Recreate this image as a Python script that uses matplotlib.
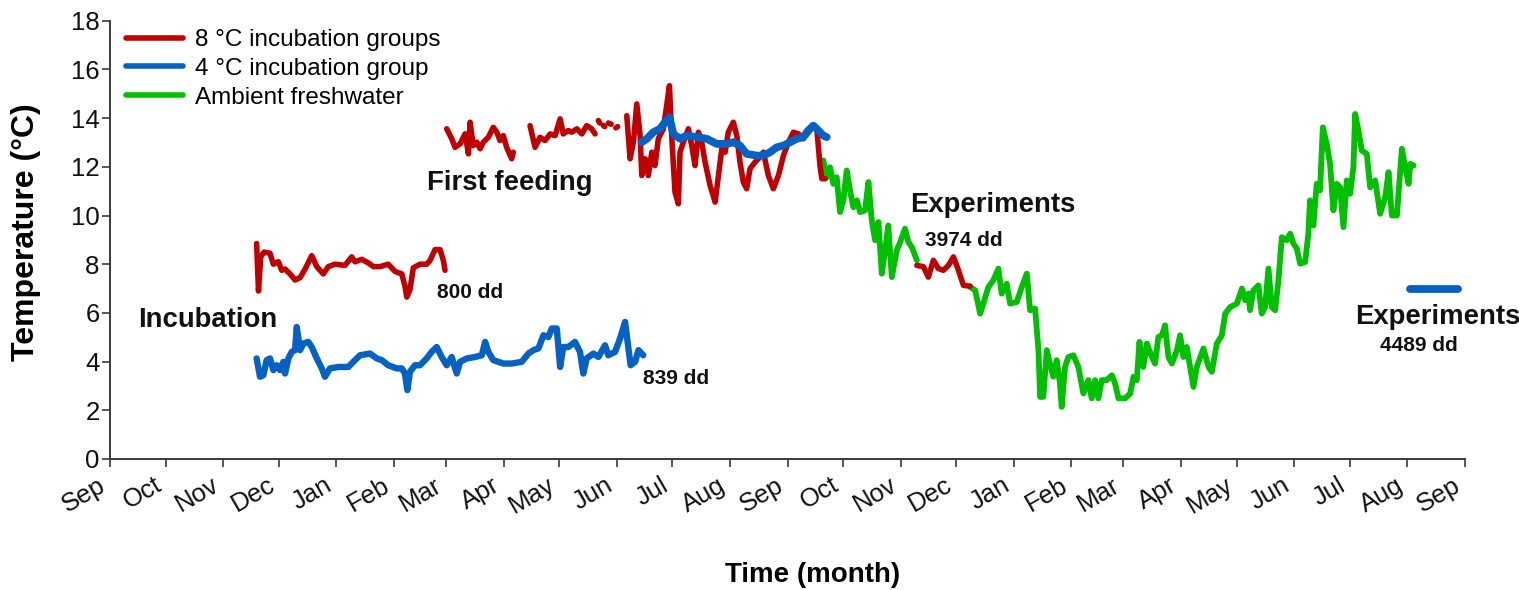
import numpy as np
import matplotlib
matplotlib.use("Agg")
import matplotlib.pyplot as plt
import matplotlib.dates as mdates

plt.rcParams['font.family'] = ['Liberation Sans', 'DejaVu Sans']

# Time axis: days since 1 September 2012
START = np.datetime64('2012-09-01')
END = np.datetime64('2014-09-01')
nan = np.nan

# 8 °C incubation groups: incubation period
red_incub_day = [79.0, 80.0, 81.2, 83.0, 86.2, 88.0, 90.7, 92.5, 94.3, 97.0,
                 99.7, 102.4, 105.1, 108.7, 111.4, 114.9, 117.6, 121.2, 126.6, 130.2,
                 132.0, 135.6, 139.2, 141.9, 145.5, 149.9, 153.6, 157.2, 158.9, 159.9,
                 161.6, 163.4, 167.0, 170.6, 172.4, 175.1, 177.8, 179.6, 180.5]
red_incub_temp = [8.85, 6.9, 8.3, 8.5, 8.45, 8.0, 8.1, 7.75, 7.8, 7.6,
                  7.35, 7.45, 7.8, 8.35, 7.9, 7.6, 7.9, 8.0, 7.95, 8.3,
                  8.1, 8.2, 8.05, 7.9, 7.9, 8.0, 7.7, 7.6, 7.1, 6.65,
                  6.95, 7.85, 8.0, 8.0, 8.15, 8.6, 8.6, 8.15, 7.75]

# 8 °C incubation groups: first feeding and summer rearing
red_rear_day = [181.4, 184.1, 185.9, 188.6, 191.3, 193.1, 194.0, 195.7, 197.6, 199.4,
                201.1, 203.8, 206.5, 208.4, 210.1, 211.9, 213.7, 216.4, 217.3, nan,
                226.3, 229.0, 231.7, 234.4, 237.1, 239.8, 242.5, 244.2, 246.9, 248.8,
                251.5, 254.2, 256.8, 259.5, 261.3, nan,
                263.1, 263.8, nan, 265.8, 266.5, nan, 268.5, 270.0, nan, 272.5, 273.5, nan,
                278.4, 280.2, 282.0, 283.8, 285.6, 286.5, 288.3, 290.0, 291.9, 293.6,
                295.4, 298.1, 299.9, 301.4, 302.6, 304.4, 306.2, 307.1, 308.9, 311.6,
                313.4, 315.2, 317.0, 318.8, 320.6, 323.3, 326.0, 327.8, 329.6, 331.4,
                333.1, 335.8, 337.7, 339.4, 341.2, 343.0, 344.8, 347.5, 349.3, 352.0,
                354.7, 357.4, 360.1, 362.8, 365.5, 368.2, 370.9, 373.5, 376.2, 378.9,
                380.8, 382.5, 383.5, 385.3]
red_rear_temp = [13.56, 13.15, 12.80, 12.94, 13.35, 12.53, 13.83, 12.87, 13.01, 12.74,
                 13.01, 13.21, 13.62, 13.42, 13.08, 13.28, 12.80, 12.33, 12.6, nan,
                 13.69, 12.80, 13.21, 13.08, 13.35, 13.28, 13.97, 13.35, 13.49, 13.42,
                 13.56, 13.35, 13.69, 13.56, 13.35, nan,
                 13.9, 13.8, nan, 13.7, 13.65, nan, 13.8, 13.75, nan, 13.6, 13.65, nan,
                 14.10, 12.33, 13.01, 14.58, 13.28, 11.64, 12.33, 11.64, 12.60, 12.05,
                 13.15, 13.56, 14.51, 15.33, 13.28, 10.96, 10.48, 12.60, 13.01, 13.56,
                 12.87, 12.05, 13.42, 13.01, 12.19, 11.23, 10.55, 11.64, 12.74, 12.60,
                 13.42, 13.83, 13.28, 12.19, 11.37, 11.10, 11.92, 12.19, 12.33, 12.60,
                 11.64, 11.10, 11.64, 12.46, 13.01, 13.42, 13.35, 13.15, 13.42, 13.69,
                 13.56, 12.05, 11.51, 11.51]

# 8 °C incubation groups: experimental period
red_exp_day = [434.7, 438.2, 440.9, 443.6, 446.3, 449.0, 451.7, 454.4, 457.1, 459.8, 463.4]
red_exp_temp = [7.95, 7.9, 7.47, 8.16, 7.82, 7.75, 7.95, 8.30, 7.75, 7.13, 7.10]

# 4 °C incubation group: incubation period
blue_incub_day = [79.0, 80.8, 82.6, 84.4, 86.2, 88.0, 89.8, 91.6, 93.4, 94.3,
                  96.1, 97.9, 99.7, 100.6, 102.4, 104.1, 106.8, 108.7, 111.4, 114.1,
                  115.8, 118.5, 123.0, 128.4, 131.1, 134.7, 140.1, 143.7, 146.4, 149.9,
                  154.5, 157.2, 158.9, 160.2, 161.6, 164.3, 167.0, 170.6, 173.3, 176.0,
                  178.7, 181.4, 184.1, 186.8, 188.6, 192.2, 196.7, 200.3, 202.1, 203.8,
                  206.5, 211.9, 216.4, 221.8, 225.4, 228.1, 230.8, 233.5, 236.2, 238.0,
                  240.7, 242.5, 244.2, 246.9, 250.5, 253.2, 255.0, 256.8, 260.4, 263.1,
                  266.7, 268.5, 272.1, 274.8, 277.5, 279.3, 280.5, 282.9, 284.7, 287.3]
blue_incub_temp = [4.13, 3.38, 3.44, 4.06, 4.13, 3.65, 3.85, 3.65, 3.99, 3.51,
                   4.13, 4.40, 4.47, 5.42, 4.47, 4.74, 4.81, 4.60, 4.13, 3.72,
                   3.38, 3.72, 3.78, 3.78, 3.99, 4.26, 4.33, 4.13, 4.06, 3.85,
                   3.72, 3.72, 3.51, 2.83, 3.58, 3.85, 3.85, 4.13, 4.40, 4.60,
                   4.19, 3.85, 4.19, 3.51, 3.99, 4.13, 4.19, 4.26, 4.81, 4.40,
                   4.06, 3.92, 3.92, 3.99, 4.33, 4.47, 4.54, 5.08, 5.01, 5.36,
                   5.36, 3.78, 4.60, 4.60, 4.81, 4.40, 3.51, 4.13, 4.33, 4.19,
                   4.67, 4.26, 4.40, 4.95, 5.63, 4.54, 3.85, 3.99, 4.47, 4.26]

# 4 °C incubation group: summer rearing
blue_rear_day = [286.5, 289.2, 292.7, 296.3, 299.0, 301.4, 303.5, 307.1, 310.7, 316.1,
                 321.5, 326.9, 332.3, 335.8, 339.4, 343.0, 348.4, 352.0, 355.6, 359.2,
                 362.8, 366.4, 370.0, 373.5, 376.2, 378.9, 381.6, 384.3, 386.1]
blue_rear_temp = [13.01, 13.15, 13.42, 13.56, 13.83, 14.03, 13.35, 13.15, 13.28, 13.22,
                  13.15, 12.94, 12.94, 13.01, 12.87, 12.53, 12.46, 12.46, 12.60, 12.80,
                  12.87, 13.01, 13.15, 13.22, 13.49, 13.69, 13.49, 13.28, 13.22]

# 4 °C incubation group: experimental period
blue_exp_day = [700.4, 726.3]
blue_exp_temp = [7.0, 7.0]

# Ambient freshwater
green_day = [384.3, 386.1, 387.9, 389.7, 391.5, 393.3, 395.1, 396.9, 398.7, 400.5,
             402.4, 404.1, 406.8, 408.6, 410.4, 412.2, 414.0, 415.8, 417.6, 419.3,
             421.2, 423.9, 425.7, 428.3, 430.1, 432.0, 434.7, nan,
             463.4, 466.1, 468.8, 470.5, 473.2, 475.9, 478.6, 480.4, 483.1, 484.9,
             488.5, 491.2, 493.9, 495.7, 498.4, 500.2, 501.1, 502.8, 504.7, 506.4,
             508.2, 510.0, 511.8, 512.7, 514.5, 516.3, 519.0, 521.7, 524.4, 527.1,
             528.9, 530.7, 532.5, 534.3, 537.0, 539.7, 541.5, 543.3, 546.9, 549.6,
             551.4, 553.2, 554.6, 556.7, 558.6, 561.3, 563.0, 564.8, 566.7, 568.4,
             570.2, 572.1, 574.8, 576.5, 578.3, 580.1, 581.9, 583.7, 585.5, 589.1,
             591.8, 593.6, 596.3, 599.0, 600.8, 603.5, 607.1, 609.8, 611.6, 613.3,
             614.2, 616.0, 618.7, 620.5, 622.3, 624.1, 625.9, 627.7, 629.5, 631.3,
             634.0, 635.8, 637.6, 639.4, 641.2, 643.9, 645.6, 646.5, 648.3, 650.1,
             651.9, 653.4, 655.5, 657.3, 659.1, 660.9, 662.7, 664.5, 666.3, 668.1,
             669.9, 670.8, 672.6, 674.4, 677.1, 678.9, 681.6, 684.3, 687.0, 688.8,
             690.6, 693.3, 696.0, 697.8, 699.6, 700.5, 702.3]
green_temp = [12.26, 11.57, 11.98, 11.30, 11.57, 10.14, 10.62, 11.85, 11.03, 10.34,
              10.62, 10.14, 10.21, 11.37, 9.80, 8.98, 9.73, 7.61, 8.57, 9.59,
              7.47, 8.57, 8.91, 9.46, 8.91, 8.70, 8.16, nan,
              7.06, 6.93, 5.97, 6.38, 7.06, 7.34, 7.82, 6.79, 7.20, 6.38,
              6.45, 7.06, 7.61, 6.11, 6.18, 4.47, 2.55, 2.55, 4.47, 3.92,
              3.38, 4.06, 3.10, 2.14, 3.78, 4.19, 4.26, 3.78, 2.69, 3.24,
              2.49, 3.24, 2.49, 3.24, 3.24, 3.44, 3.10, 2.49, 2.49, 2.69,
              3.38, 3.24, 4.81, 3.78, 4.74, 4.19, 3.92, 5.01, 5.08, 5.49,
              4.19, 3.92, 4.47, 5.08, 4.19, 4.60, 3.78, 2.96, 3.78, 4.54,
              3.78, 3.58, 4.74, 5.08, 5.97, 6.24, 6.38, 7.00, 6.52, 6.79,
              6.11, 6.93, 7.13, 5.97, 6.24, 7.82, 6.24, 6.11, 7.34, 9.11,
              8.98, 9.25, 8.84, 8.64, 8.02, 8.09, 9.25, 10.62, 9.59, 11.30,
              11.03, 13.62, 12.94, 12.12, 10.21, 11.30, 11.16, 9.52, 11.44, 10.89,
              11.98, 14.17, 13.49, 12.67, 12.53, 11.16, 11.44, 10.07, 10.75, 11.78,
              10.00, 10.00, 12.74, 11.98, 11.30, 12.12, 12.05]

# Stage annotations: (text, day, temperature)
stage_labels = [
    ("Incubation", 15.1, 5.70),
    ("First feeding", 170.8, 11.32),
    ("Experiments", 431.0, 10.45),
    ("Experiments", 670.8, 5.82),
]
dd_labels = [
    ("800 dd", 176.2, 6.85),
    ("839 dd", 287.2, 3.32),
    ("3974 dd", 439.1, 8.98),
    ("4489 dd", 684.3, 4.67),
]

RED = "#C00000"
BLUE = "#0562C4"
GREEN = "#00C000"

t0 = mdates.date2num(START)


def to_x(days):
    return t0 + np.asarray(days, dtype=float)


fig = plt.figure(figsize=(15.19, 5.90), dpi=100)
ax = fig.add_axes([110 / 1519, 1 - 459 / 590, (1465 - 110) / 1519, (459 - 20.7) / 590])

line_kw = dict(solid_capstyle="round", solid_joinstyle="round")
ax.plot(to_x(green_day), green_temp, color=GREEN, lw=4.2, label="Ambient freshwater", **line_kw)
ax.plot(to_x(red_incub_day), red_incub_temp, color=RED, lw=4.0,
        label="8 \u00b0C incubation groups", **line_kw)
ax.plot(to_x(red_rear_day), red_rear_temp, color=RED, lw=4.0, **line_kw)
ax.plot(to_x(red_exp_day), red_exp_temp, color=RED, lw=4.0, **line_kw)
ax.plot(to_x(blue_incub_day), blue_incub_temp, color=BLUE, lw=4.6,
        label="4 \u00b0C incubation group", **line_kw)
ax.plot(to_x(blue_rear_day), blue_rear_temp, color=BLUE, lw=5.6, **line_kw)
ax.plot(to_x(blue_exp_day), blue_exp_temp, color=BLUE, lw=5.6, **line_kw)

for text, d, t in stage_labels:
    ax.text(t0 + d, t, text, fontsize=19.8, fontweight="bold", ha="left", va="center",
            color="#111111", clip_on=False)
for text, d, t in dd_labels:
    ax.text(t0 + d, t, text, fontsize=15, fontweight="bold", ha="left", va="center",
            color="#111111", clip_on=False)

ax.set_xlim(mdates.date2num(START), mdates.date2num(END))
ax.set_ylim(0, 18)
ax.set_yticks(np.arange(0, 19, 2))
ax.xaxis.set_major_locator(mdates.MonthLocator())
ax.xaxis.set_major_formatter(mdates.DateFormatter("%b"))

for side in ("top", "right"):
    ax.spines[side].set_visible(False)
for side in ("left", "bottom"):
    ax.spines[side].set_color("#3a3a3a")
    ax.spines[side].set_linewidth(1.4)
ax.tick_params(axis="both", direction="out", length=6, width=1.2, color="#3a3a3a",
               labelsize=18.5, labelcolor="#111111")
ax.tick_params(axis="x", pad=4)
ax.tick_params(axis="y", pad=1.5)
for lbl in ax.get_xticklabels():
    lbl.set_rotation(30)
    lbl.set_ha("right")

ax.set_ylabel("Temperature (\u00b0C)", fontsize=23, fontweight="bold")
ax.yaxis.label.set_va("center")
ax.yaxis.set_label_coords(-(110 - 26) / (1465 - 110), (459 - 232) / (459 - 20.7))
ax.set_xlabel("Time (month)", fontsize=20, fontweight="bold")
ax.xaxis.label.set_va("center")
ax.xaxis.set_label_coords((813 - 110) / (1465 - 110), -(575 - 459) / (459 - 20.7))

handles, labels = ax.get_legend_handles_labels()
order = [labels.index("8 \u00b0C incubation groups"),
         labels.index("4 \u00b0C incubation group"),
         labels.index("Ambient freshwater")]
leg = fig.legend([handles[i] for i in order], [labels[i] for i in order],
                 loc="upper left", bbox_to_anchor=(126 / 1519, 1 - 29 / 590),
                 frameon=False, fontsize=17.5, handlelength=2.35, handletextpad=0.5,
                 labelspacing=0.28, borderpad=0, borderaxespad=0)
for h in leg.legend_handles:
    h.set_linewidth(4.0)

fig.savefig("out.png", dpi=100)
